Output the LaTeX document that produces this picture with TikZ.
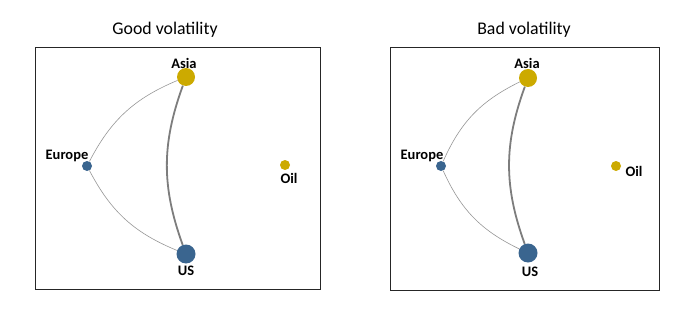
\documentclass[tikz,border=0pt]{standalone}
\usepackage{fontspec}
\setmainfont{Carlito}
\definecolor{gold}{RGB}{204,170,0}
\definecolor{navy}{RGB}{58,101,143}
\definecolor{thin}{RGB}{150,150,150}
\definecolor{thick}{RGB}{125,125,125}
\begin{document}
\begin{tikzpicture}[x=1pt,y=-1pt,
  panel/.style={draw=black!85,line width=0.8pt},
  ttl/.style={font=\fontsize{17.8}{20}\selectfont},
  lbl/.style={font=\fontsize{14.5}{16}\selectfont\bfseries,inner sep=0pt},
  gnode/.style={circle,fill=gold,inner sep=0pt},
  bnode/.style={circle,fill=navy,inner sep=0pt},
  thinedge/.style={draw=thin,line width=0.6pt},
  thickedge/.style={draw=thick,line width=1.8pt}]
\useasboundingbox (0,0) rectangle (693,310);
% Left panel
\node[ttl] (t1) at (165,30) {Good volatility};
\draw[panel] (35,47) rectangle (320,289);
\node[gnode,minimum size=18pt] (asia1) at (186,77) {};
\node[bnode,minimum size=10pt] (eur1) at (87,166) {};
\node[bnode,minimum size=19pt] (us1) at (186,254) {};
\node[gnode,minimum size=10pt] (oil1) at (285,165) {};
\node[lbl] (asiaL1) at (184,63) {Asia};
\node[lbl] (eurL1) at (67,156) {Europe};
\node[lbl] (usL1) at (186,271) {US};
\node[lbl] (oilL1) at (289,178) {Oil};
\draw[thinedge] (eur1) to[bend left=20] (asia1);
\draw[thinedge] (us1) to[bend left=20] (eur1);
\draw[thickedge] (asia1) to[bend right=20] (us1);
% Right panel
\node[ttl] (t2) at (524,30) {Bad volatility};
\draw[panel] (390,47) rectangle (659,290);
\node[gnode,minimum size=18pt] (asia2) at (528,78) {};
\node[bnode,minimum size=10pt] (eur2) at (441,166) {};
\node[bnode,minimum size=19pt] (us2) at (528,253) {};
\node[gnode,minimum size=10pt] (oil2) at (616,166) {};
\node[lbl] (asiaL2) at (527,63) {Asia};
\node[lbl] (eurL2) at (422,156) {Europe};
\node[lbl] (usL2) at (530,272) {US};
\node[lbl] (oilL2) at (634,171) {Oil};
\draw[thinedge] (eur2) to[bend left=20] (asia2);
\draw[thinedge] (us2) to[bend left=20] (eur2);
\draw[thickedge] (asia2) to[bend right=20] (us2);
\end{tikzpicture}
\end{document}
